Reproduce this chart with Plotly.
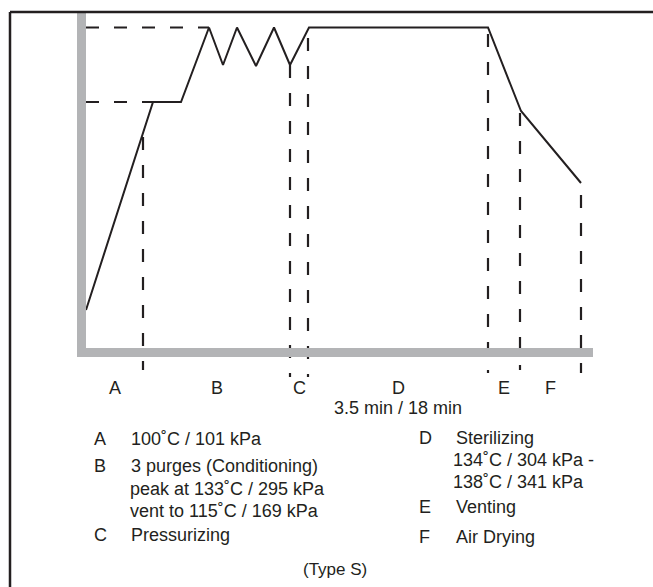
import plotly.graph_objects as go

# ---- data (schematic units: time from the vertical axis, level above the time axis) ----
cycle_time = [0, 67, 95, 123, 137, 151, 170, 188, 204, 223, 402, 435, 495]
cycle_level = [38, 246, 246, 320.5, 283, 320.5, 282, 320.5, 283, 320.5, 320.5, 237, 165]

phase_labels = ["A", "B", "C", "D", "E", "F"]
phase_bounds = [0, 57, 204, 222, 402, 434, 495]
bound_tops = [211, 283, 310, 314, 235, 153]
bound_bottoms = [-22, -29, -29, -25, -22, -25]

ref_levels = [320.5, 246]
ref_ends = [123, 67]

d_note = "3.5 min / 18 min"

legend_left = [
    ("A", "100˚C / 101 kPa", 439),
    ("B", "3 purges (Conditioning)", 466),
    ("", "peak at 133˚C / 295 kPa", 489),
    ("", "vent to 115˚C / 169 kPa", 511),
    ("C", "Pressurizing", 535),
]
legend_right = [
    ("D", "Sterilizing", 438),
    ("", "134˚C / 304 kPa -", 460),
    ("", "138˚C / 341 kPa", 482),
    ("E", "Venting", 507),
    ("F", "Air Drying", 537),
]
footer = "(Type S)"

W, H = 653, 587
INK = "#231f20"
GRAY = "#b3b4b6"
FONT = "Liberation Sans, Arial, sans-serif"

fig = go.Figure()

# reference (dashed) horizontal lines
for lv, te in zip(ref_levels, ref_ends):
    fig.add_trace(go.Scatter(x=[0, te], y=[lv, lv], mode="lines",
                             line=dict(color=INK, width=2, dash="13px,15px"),
                             hoverinfo="skip", showlegend=False))

# phase boundaries (dashed verticals)
for b, top, bot in zip(phase_bounds[1:], bound_tops, bound_bottoms):
    fig.add_trace(go.Scatter(x=[b, b], y=[top, bot], mode="lines",
                             line=dict(color=INK, width=2.2, dash="13px,15px"),
                             hoverinfo="skip", showlegend=False))

# cycle profile
fig.add_trace(go.Scatter(x=cycle_time, y=cycle_level, mode="lines",
                         line=dict(color=INK, width=2),
                         hoverinfo="skip", showlegend=False))

shapes = [
    # gray axes
    dict(type="rect", xref="x", yref="y", x0=-9, x1=0, y0=-9, y1=336,
         fillcolor=GRAY, line=dict(width=0), layer="above"),
    dict(type="rect", xref="x", yref="y", x0=-9, x1=507, y0=-9, y1=0,
         fillcolor=GRAY, line=dict(width=0), layer="above"),
    # frame
    dict(type="line", xref="paper", yref="paper", x0=10 / W, x1=10 / W,
         y0=1 - 12 / H, y1=0, line=dict(color=INK, width=2.5), layer="above"),
    dict(type="line", xref="paper", yref="paper", x0=10 / W, x1=1,
         y0=1 - 12 / H, y1=1 - 12 / H, line=dict(color=INK, width=2.5), layer="above"),
]

annotations = []
mids = [(phase_bounds[i] + phase_bounds[i + 1]) / 2 for i in range(len(phase_labels))]
for lab, m in zip(phase_labels, mids):
    annotations.append(dict(x=m, y=-40, xref="x", yref="y", text=lab, showarrow=False,
                            xanchor="center", yanchor="middle",
                            font=dict(family=FONT, size=18, color=INK)))
annotations.append(dict(x=mids[3], y=-60, xref="x", yref="y", text=d_note, showarrow=False,
                        xanchor="center", yanchor="middle",
                        font=dict(family=FONT, size=18, color=INK)))


def add_col(rows, letter_x, text_x, indent_x):
    for letter, txt, py in rows:
        yy = 1 - py / H
        if letter:
            annotations.append(dict(x=letter_x / W, y=yy, xref="paper", yref="paper",
                                    text=letter, showarrow=False, xanchor="left",
                                    yanchor="middle",
                                    font=dict(family=FONT, size=18, color=INK)))
        annotations.append(dict(x=(text_x if letter else indent_x) / W, y=yy,
                                xref="paper", yref="paper", text=txt, showarrow=False,
                                xanchor="left", yanchor="middle",
                                font=dict(family=FONT, size=18, color=INK)))


add_col(legend_left, 92, 129, 128)
add_col(legend_right, 417, 454, 451)
annotations.append(dict(x=335 / W, y=1 - 569 / H, xref="paper", yref="paper", text=footer,
                        showarrow=False, xanchor="center", yanchor="middle",
                        font=dict(family=FONT, size=17, color=INK)))

fig.update_layout(
    width=W, height=H,
    margin=dict(l=0, r=0, t=0, b=0),
    paper_bgcolor="white", plot_bgcolor="white",
    xaxis=dict(range=[-86, W - 86], visible=False, fixedrange=True),
    yaxis=dict(range=[348 - H, 348], visible=False, fixedrange=True),
    shapes=shapes, annotations=annotations,
    showlegend=False,
)

fig.write_html("out.html", config={"displayModeBar": False},
               post_script="document.body.style.margin='0px';document.body.style.overflow='hidden';")
